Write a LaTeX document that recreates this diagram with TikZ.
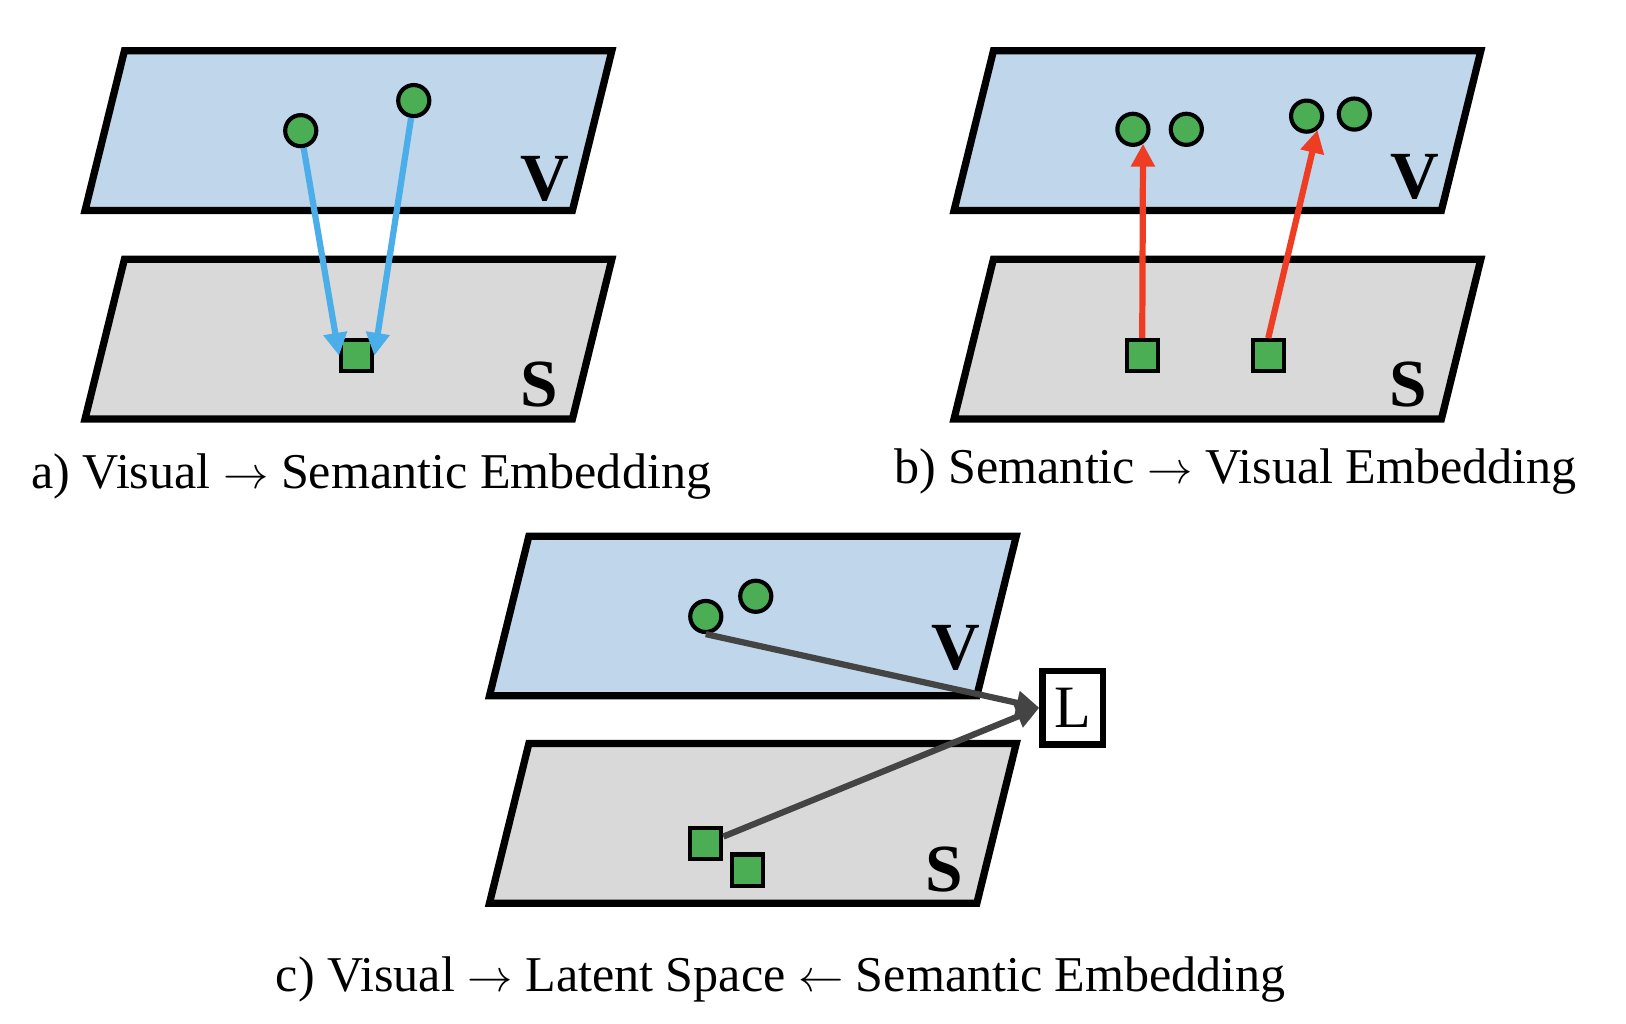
\documentclass[tikz,border=0pt]{standalone}
\usepackage{fontspec}
\setmainfont{Liberation Serif}
\usepackage{xcolor}
\usepackage[]{tikz}
\usetikzlibrary{positioning,arrows.meta}
\definecolor{visBlue}{HTML}{BFD6EB}
\definecolor{semGray}{HTML}{D9D9D9}
\definecolor{ptGreen}{HTML}{4CAE54}
\definecolor{arrBlue}{HTML}{4BAEE8}
\definecolor{arrRed}{HTML}{EE3D23}
\definecolor{arrGray}{HTML}{444444}
\tikzstyle{planeLine} =[draw=black, line width=0.14cm]
\tikzstyle{nodeVis}   =[circle, fill=ptGreen, draw, line width=0.08cm, minimum size=0.6cm, inner sep=0pt]
\tikzstyle{nodeSem}   =[rectangle, fill=ptGreen, draw, line width=0.08cm, minimum size=0.6cm, inner sep=0pt]
\tikzstyle{nodeLat}   =[rectangle, fill=white, draw, line width=0.12cm, minimum width=1.17cm, minimum height=1.42cm, inner sep=0pt, font=\fontsize{33}{36}\selectfont]
\tikzstyle{spaceLbl}  =[anchor=base, inner sep=0pt, font=\fontsize{37}{40}\selectfont\bfseries]
\tikzstyle{capLbl}    =[anchor=base, inner sep=0pt, font=\fontsize{27.5}{32}\selectfont]
\tikzstyle{arrMap}    =[line width=0.12cm, -{Triangle[length=0.44cm,width=0.44cm]}]
\newcommand{\drawplane}[3]{
  \draw[planeLine, fill=#1] (#2,#3) -- ++(470,0) -- ++(38,-154) -- ++(-470,0) -- cycle;
}

\begin{document}
\begin{tikzpicture}[x=0.02cm, y=-0.02cm]
      \useasboundingbox (0,0) rectangle (1568,987);
      % a) visual -> semantic
      \drawplane{visBlue}{82}{203}
      \drawplane{semGray}{82}{404}
      \node[nodeVis] (va1) [] at (290,126) {};
      \node[nodeVis] (va2) [] at (399,97) {};
      \node[nodeSem] (sa) [] at (344,343) {};
      \node[spaceLbl] (lva) [] at (525,193) {V};
      \node[spaceLbl] (lsa) [] at (520,392) {S};
      \draw[arrMap, arrBlue] (va1) -- (sa.west);
      \draw[arrMap, arrBlue] (va2) -- (sa.east);
      \node[capLbl] (capa) [] at (358,471) {a) Visual $\rightarrow$ Semantic Embedding};
      % b) semantic -> visual
      \drawplane{visBlue}{920}{203}
      \drawplane{semGray}{920}{404}
      \node[nodeVis] (vb1) [] at (1092.5,124.7) {};
      \node[nodeVis] (vb2) [] at (1144,124.7) {};
      \node[nodeVis] (vb3) [] at (1260,112) {};
      \node[nodeVis] (vb4) [] at (1306,110) {};
      \node[nodeSem] (sb1) [] at (1101.5,343) {};
      \node[nodeSem] (sb2) [] at (1223,343) {};
      \node[spaceLbl] (lvb) [] at (1364,191) {V};
      \node[spaceLbl] (lsb) [] at (1358,392) {S};
      \draw[arrMap, arrRed] (sb1.north) -- (vb1.-55);
      \draw[arrMap, arrRed] (sb2.north) -- (vb3.-52);
      \node[capLbl] (capb) [] at (1191.5,466) {b) Semantic $\rightarrow$ Visual Embedding};
      % c) both into the latent space
      \drawplane{visBlue}{472}{671}
      \drawplane{semGray}{472}{871}
      \node[nodeVis] (vc1) [] at (680.6,594.5) {};
      \node[nodeVis] (vc2) [] at (728.8,575) {};
      \node[nodeSem] (sc1) [] at (680.6,813.6) {};
      \node[nodeSem] (sc2) [] at (721,839) {};
      \node[nodeLat] (L) [] at (1034.5,682.5) {L};
      \node[spaceLbl] (lvc) [] at (922,646) {V};
      \node[spaceLbl] (lsc) [] at (911,860) {S};
      \draw[arrMap, arrGray] (vc1.south) -- (L.west);
      \draw[arrMap, arrGray] (sc1) -- (L.west);
      \node[capLbl] (capc) [] at (753,956) {c) Visual $\rightarrow$ Latent Space $\leftarrow$ Semantic Embedding};
\end{tikzpicture}
\end{document}
